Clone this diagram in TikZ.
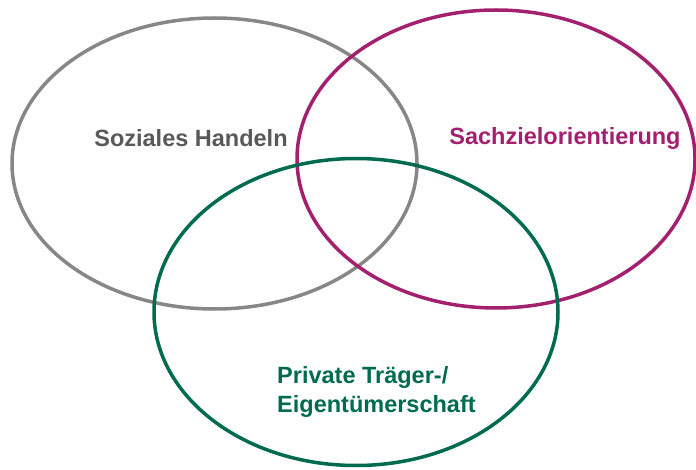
\documentclass[tikz,border=0pt]{standalone}
\usepackage{fontspec}
\setmainfont{Liberation Sans}
\usetikzlibrary{shapes.geometric}

\definecolor{kreisgrau}{HTML}{878787}
\definecolor{textgrau}{HTML}{595959}
\definecolor{sachlila}{HTML}{A3206E}
\definecolor{traegergruen}{HTML}{006B4F}

\tikzset{
  kreis/.style={ellipse, draw, line width=3.5pt, inner sep=0pt},
  titel/.style={font=\fontsize{23.5}{29}\selectfont\bfseries, inner sep=0pt}
}

\begin{document}
\begin{tikzpicture}[x=1pt, y=1pt]
  \useasboundingbox (0,0) rectangle (696,469);
  % die drei Ellipsen
  \node[kreis, kreisgrau, minimum width=405pt, minimum height=291pt]    (soziales) at (214.5,305.5) {};
  \node[kreis, sachlila, minimum width=398pt, minimum height=298pt]     (sachziel) at (496,310) {};
  \node[kreis, traegergruen, minimum width=404pt, minimum height=307pt] (traeger)  at (356,157) {};
  % Beschriftungen
  \node[titel, textgrau]                            (handeln) at (191,331) {Soziales Handeln};
  \node[titel, sachlila]                            (orient)  at (565,331) {Sachzielorientierung};
  \node[titel, traegergruen, align=left, anchor=west] (eigen) at (277,77.5) {Private Träger-/\\Eigentümerschaft};
\end{tikzpicture}
\end{document}
